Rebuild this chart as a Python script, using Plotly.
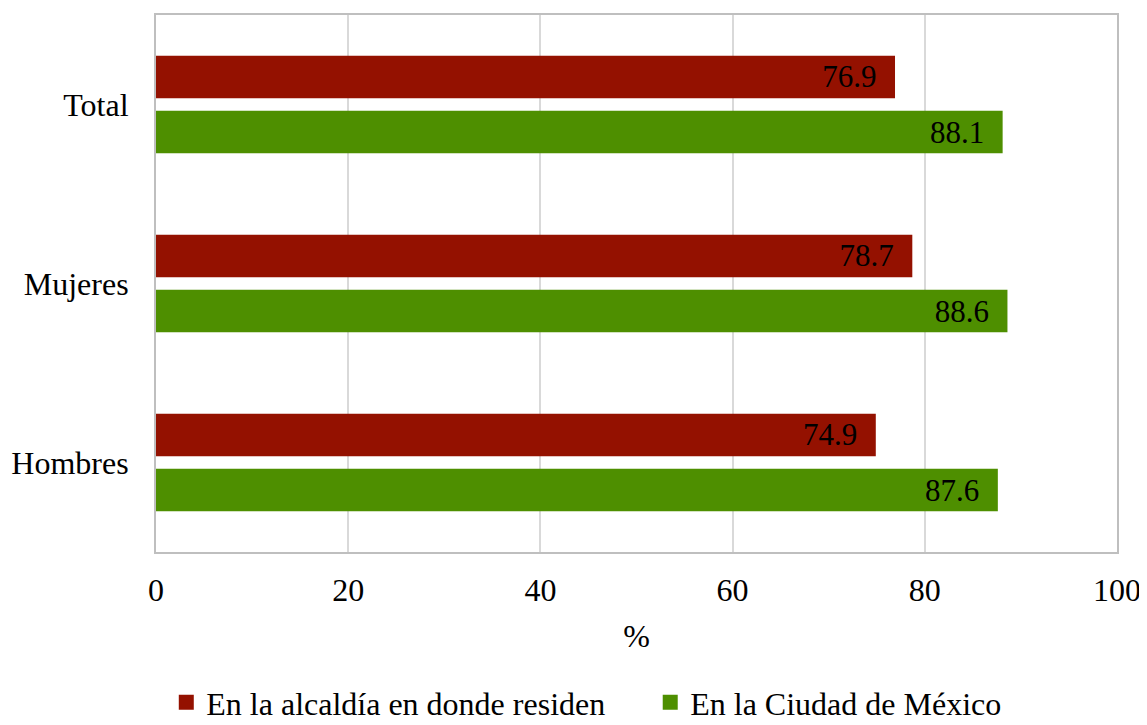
import plotly.graph_objects as go

categories = ["Total", "Mujeres", "Hombres"]
alcaldia = [76.9, 78.7, 74.9]
cdmx = [88.1, 88.6, 87.6]
series_names = ["En la alcaldía en donde residen", "En la Ciudad de México"]
colors = ["#941100", "#4E8F00"]
x_ticks = [0, 20, 40, 60, 80, 100]

FONT = "Liberation Serif, Times New Roman, serif"
FS = 32
NB = "\u00a0\u00a0"
LEG_PAD = ["\u00a0" * 5, ""]

fig = go.Figure()
for vals, name, col in [(alcaldia, series_names[0], colors[0]), (cdmx, series_names[1], colors[1])]:
    fig.add_trace(go.Bar(
        y=categories, x=vals, orientation="h", name=name, showlegend=False,
        marker=dict(color=col, line=dict(width=0)),
        text=[f"{v:.1f}{NB}" for v in vals], textposition="inside",
        insidetextanchor="end", textfont=dict(family=FONT, size=31, color="black"),
    ))
# legend entries with square markers
for name, col, pad in zip(series_names, colors, LEG_PAD):
    fig.add_trace(go.Scatter(
        x=[None], y=[None], mode="markers", name=name + pad,
        marker=dict(symbol="square", size=15, color=col),
    ))

fig.update_layout(
    width=1147, height=725,
    margin=dict(l=148, r=38, t=7, b=181, autoexpand=False),
    paper_bgcolor="white", plot_bgcolor="white",
    barmode="group", bargap=0.385, bargroupgap=0.23,
    font=dict(family=FONT, size=FS, color="black"),
    legend=dict(orientation="h", xref="container", x=0.138, xanchor="left",
                yref="container", y=0.042, yanchor="middle",
                font=dict(family=FONT, size=32), itemwidth=30,
                tracegroupgap=0),
    showlegend=True,
)
fig.update_xaxes(
    range=[0, 100], tickvals=x_ticks, ticktext=[str(t) for t in x_ticks],
    showgrid=True, gridcolor="#d9d9d9", gridwidth=1.5,
    showline=True, linecolor="#bfbfbf", linewidth=2, mirror=True,
    ticks="", tickfont=dict(family=FONT, size=FS), ticklabelstandoff=9,
    title=dict(text="%", font=dict(family=FONT, size=FS), standoff=17),
    zeroline=False, automargin=False,
)
fig.update_yaxes(
    autorange="reversed", categoryorder="array", categoryarray=categories,
    showline=True, linecolor="#bfbfbf", linewidth=2, mirror=True,
    showgrid=False, ticks="", tickfont=dict(family=FONT, size=FS), ticklabelstandoff=19,
    automargin=False,
)

fig.write_html("out.html")
